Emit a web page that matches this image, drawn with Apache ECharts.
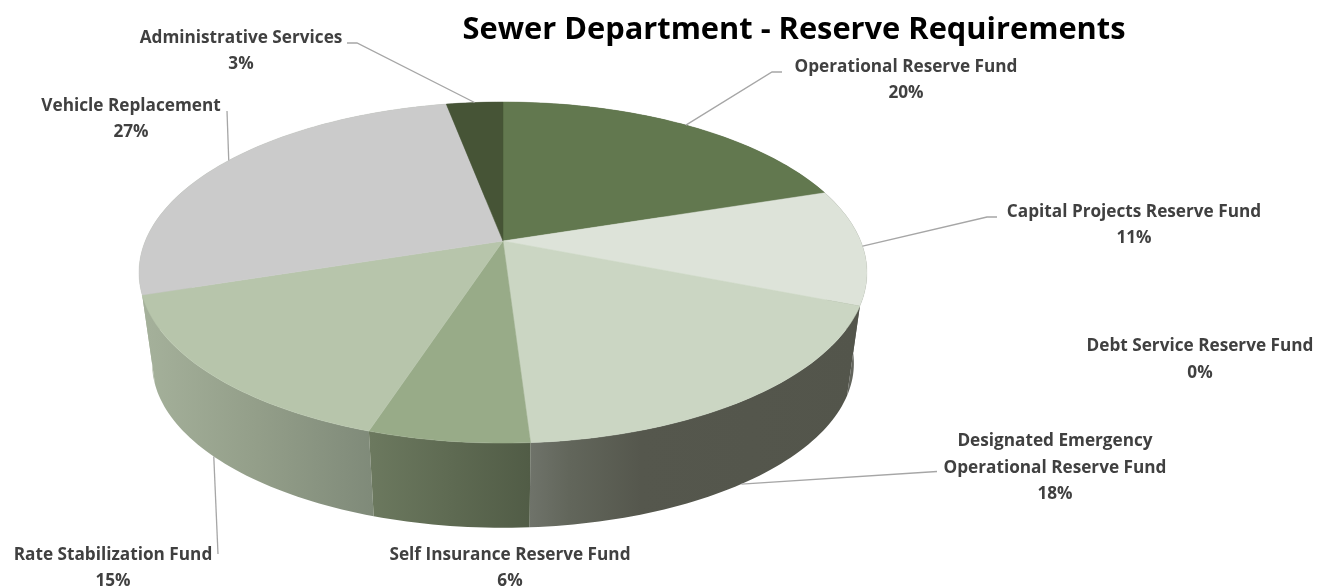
<!DOCTYPE html>
<html>
<head>
<meta charset="utf-8">
<style>html,body{margin:0;padding:0;background:#fff}#chart{width:1319px;height:588px}</style>
<script src="https://cdn.jsdelivr.net/npm/echarts@6/dist/echarts.min.js"></script>
</head>
<body>
<div id="chart"></div>
<script>
// Reserve categories and their percentage shares, clockwise from twelve o'clock
const categories = [
  'Operational Reserve Fund',
  'Capital Projects Reserve Fund',
  'Debt Service Reserve Fund',
  'Designated Emergency\nOperational Reserve Fund',
  'Self Insurance Reserve Fund',
  'Rate Stabilization Fund',
  'Vehicle Replacement',
  'Administrative Services'
];
const shares = [20, 11, 0, 18, 6, 15, 27, 3];

// Slice colours: flat top face, then the left-to-right gradient stops of the outer wall
const topColors = ['#62784f', '#dde3d9', '#a5a5a5', '#cbd6c3', '#98ab88', '#b7c5ab', '#cbcbcb', '#465436'];
const wallStops = [
  [[0, '#4e5c40'], [1, '#4e5c40']],
  [[0, '#63655d'], [1, '#63655d']],
  [[0, '#777777'], [1, '#777777']],
  [[0, '#6f736a'], [0.12, '#62665b'], [0.34, '#55574d'], [1, '#53554b']],
  [[0, '#6c795f'], [1, '#515c46']],
  [[0, '#a5b19b'], [0.5, '#939e89'], [1, '#7f8a79']],
  [[0, '#a8b39e'], [1, '#a8b39e']],
  [[0, '#3a452c'], [1, '#3a452c']]
];

// Label placement: centre x and vertical middle of the text block
const labelPlaces = [[906, 80], [1134, 225], [1200, 359.5], [1055, 468], [510, 568], [113, 568], [131, 119], [241, 51]];
// Leader line tails, written from the label end towards the elbow; empty means no leader
const leaderTails = [
  [[782, 72], [772, 72]],
  [[997, 217], [987, 217]],
  [],
  [[937, 471.5]],
  [],
  [[218, 554]],
  [[227, 111]],
  [[347, 43], [357, 43]]
];
// Where each leader meets its slice: the lower rim or the top face, and how far along the slice
const leaderOnRim = [false, false, false, true, false, true, false, false];
const leaderAlong = [0.5, 0.5, 0.5, 0.5, 0.5, 0.54, 0.52, 0.5];

// Perspective projection of the two discs that bound the pie
const CX = 503;
const TILT = 0.185;
const topDisc = { cy: 241, a: 357.7, b: 164.7, k: 1 };
const lowDisc = { cy: 333, a: 357.7, b: 164.7, k: 0.964 };

function project(disc, share) {
  const t = share / 100 * Math.PI * 2;
  const u = Math.sin(t), v = -Math.cos(t), w = 1 - TILT * v;
  return [CX + disc.k * disc.a * u / w, disc.cy + disc.k * disc.b * v / w];
}
function arc(disc, from, to) {
  const pts = [];
  const steps = Math.max(2, Math.ceil((to - from) * 3));
  for (let i = 0; i <= steps; i++) pts.push(project(disc, from + (to - from) * i / steps));
  return pts;
}
function startOf(index) {
  return shares.slice(0, index).reduce((s, x) => s + x, 0);
}

const seriesData = categories.map((name, i) => ({ name, value: shares[i] }));

function renderWall(params, api) {
  const i = params.dataIndex, val = api.value(0);
  if (!val) return null;
  const from = startOf(i), to = from + val;
  const pts = arc(topDisc, from, to).concat(arc(lowDisc, from, to).reverse());
  const fill = new echarts.graphic.LinearGradient(0, 0, 1, 0,
    wallStops[i].map(([offset, color]) => ({ offset, color })));
  const nearness = -Math.cos((from + to) / 100 * Math.PI);
  return {
    type: 'polygon',
    z2: Math.round(nearness * 100) + 100,
    shape: { points: pts },
    style: { fill }
  };
}

function renderTop(params, api) {
  const i = params.dataIndex, val = api.value(0);
  if (!val) return null;
  const from = startOf(i);
  const pts = [[CX, topDisc.cy]].concat(arc(topDisc, from, from + val));
  return {
    type: 'polygon',
    shape: { points: pts },
    style: { fill: topColors[i], stroke: topColors[i], lineWidth: 0.5 }
  };
}

function renderCallout(params, api) {
  const i = params.dataIndex, val = api.value(0);
  const children = [];
  if (val && leaderTails[i].length) {
    const foot = project(leaderOnRim[i] ? lowDisc : topDisc, startOf(i) + val * leaderAlong[i]);
    children.push({
      type: 'polyline',
      shape: { points: leaderTails[i].concat([foot]) },
      style: { fill: 'none', stroke: '#a6a6a6', lineWidth: 1.3 }
    });
  }
  children.push({
    type: 'text',
    style: {
      text: categories[i] + '\n' + val + '%',
      x: labelPlaces[i][0],
      y: labelPlaces[i][1],
      align: 'center',
      verticalAlign: 'middle',
      lineHeight: 26.5,
      fontFamily: '"Open Sans"',
      fontWeight: 700,
      fontSize: 17.2,
      fill: '#404040'
    }
  });
  return { type: 'group', children };
}

const chart = echarts.init(document.getElementById('chart'), null, { renderer: 'canvas' });
chart.setOption({
  animation: false,
  backgroundColor: '#ffffff',
  title: {
    text: 'Sewer Department - Reserve Requirements',
    left: 789,
    top: 10,
    textAlign: 'center',
    textStyle: { fontFamily: '"Open Sans"', fontWeight: 700, fontSize: 30.8, color: '#000000' }
  },
  tooltip: { show: false },
  series: [
    { type: 'custom', coordinateSystem: 'none', z: 1, data: seriesData, renderItem: renderWall, silent: true },
    { type: 'custom', coordinateSystem: 'none', z: 2, data: seriesData, renderItem: renderTop, silent: true },
    { type: 'custom', coordinateSystem: 'none', z: 3, data: seriesData, renderItem: renderCallout, silent: true }
  ]
});
</script>
</body>
</html>
